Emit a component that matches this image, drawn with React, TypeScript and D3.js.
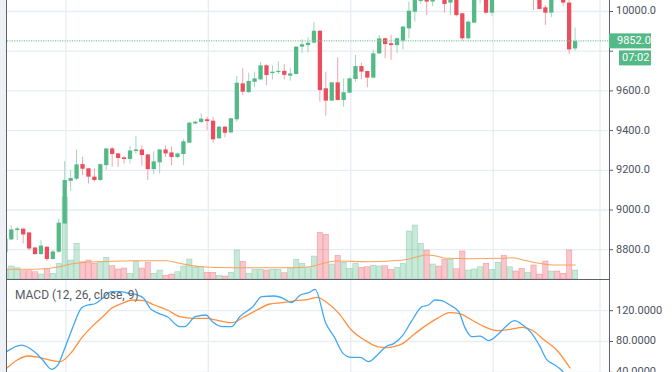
import React from 'react';
import * as d3 from 'd3';

// OHLC per bar (index 0 = leftmost, partly hidden by the border)
const opens = [8788, 8852, 8899, 8906, 8887, 8811, 8778, 8815, 8753, 8790, 8932, 9147, 9158, 9231, 9210, 9168, 9151, 9226, 9310, 9285, 9265, 9257, 9297, 9305, 9280, 9206, 9240, 9305, 9290, 9267, 9282, 9339, 9436, 9443, 9457, 9450, 9361, 9420, 9391, 9457, 9638, 9594, 9646, 9658, 9729, 9690, 9695, 9701, 9677, 9685, 9823, 9831, 9843, 9903, 9613, 9551, 9643, 9554, 9591, 9660, 9725, 9700, 9667, 9789, 9865, 9840, 9831, 9853, 9915, 9999, 10053, 10090, 10050, 10100, 10075, 10045, 10075, 9991, 9865, 9944, 10070, 10090, 9994, 10065, 10105, 10080, 10120, 10095, 10075, 10100, 10070, 10021, 9994, 10095, 10090, 10045, 9814];
const highs = [8860, 8922, 8916, 8909, 8887, 8815, 8848, 8818, 8798, 8956, 9247, 9201, 9305, 9268, 9210, 9210, 9235, 9312, 9319, 9287, 9272, 9322, 9373, 9325, 9282, 9295, 9307, 9325, 9319, 9289, 9356, 9445, 9450, 9487, 9470, 9470, 9423, 9423, 9465, 9675, 9714, 9692, 9697, 9746, 9734, 9729, 9749, 9735, 9716, 9826, 9860, 9870, 9947, 9907, 9697, 9646, 9769, 9662, 9668, 9781, 9742, 9702, 9809, 9881, 9868, 9882, 9870, 9927, 10050, 10110, 10120, 10110, 10130, 10130, 10100, 10120, 10100, 9993, 9955, 10100, 10120, 10110, 10090, 10130, 10140, 10150, 10135, 10115, 10125, 10110, 10080, 10033, 10090, 10115, 10100, 10058, 9919];
const lows = [8780, 8848, 8848, 8832, 8795, 8773, 8773, 8744, 8751, 8785, 8929, 9097, 9151, 9176, 9134, 9142, 9148, 9201, 9218, 9218, 9235, 9235, 9285, 9223, 9151, 9181, 9184, 9268, 9226, 9260, 9226, 9337, 9433, 9440, 9403, 9339, 9359, 9366, 9386, 9445, 9579, 9591, 9618, 9655, 9630, 9658, 9685, 9658, 9652, 9683, 9789, 9794, 9840, 9546, 9475, 9549, 9552, 9520, 9589, 9646, 9660, 9618, 9663, 9786, 9764, 9756, 9790, 9809, 9865, 9949, 10040, 9982, 10028, 10062, 9994, 9982, 9975, 9853, 9860, 9940, 10041, 9990, 9977, 10058, 10062, 10072, 10080, 10062, 10065, 10008, 10010, 9932, 9971, 10060, 10028, 9786, 9803];
const closes = [8855, 8902, 8907, 8877, 8806, 8778, 8821, 8753, 8791, 8936, 9151, 9161, 9230, 9208, 9168, 9151, 9231, 9310, 9282, 9262, 9257, 9300, 9305, 9277, 9206, 9245, 9305, 9285, 9267, 9285, 9346, 9440, 9445, 9460, 9448, 9356, 9420, 9389, 9462, 9641, 9596, 9650, 9663, 9729, 9680, 9697, 9701, 9681, 9688, 9823, 9835, 9843, 9903, 9604, 9551, 9643, 9554, 9593, 9663, 9725, 9697, 9667, 9789, 9865, 9836, 9831, 9865, 9924, 10004, 10075, 10080, 10050, 10095, 10078, 10038, 10090, 9982, 9865, 9949, 10070, 10095, 9994, 10065, 10105, 10080, 10120, 10095, 10075, 10100, 10070, 10013, 9994, 10065, 10068, 10045, 9809, 9852];
const volumes = [1000, 1300, 1130, 830, 830, 730, 500, 1070, 570, 1570, 8200, 1900, 3570, 1730, 1900, 1570, 1730, 2170, 1330, 1000, 1100, 570, 1770, 1100, 1670, 570, 900, 370, 500, 730, 1300, 2000, 1170, 1230, 670, 670, 370, 300, 670, 2900, 1770, 570, 970, 970, 900, 970, 970, 630, 1130, 1970, 1570, 1130, 2300, 4670, 4470, 1500, 2370, 1670, 1070, 1570, 1170, 1230, 1370, 1300, 1330, 970, 1170, 1570, 4800, 5400, 3570, 2900, 1500, 1300, 1970, 1970, 1030, 2800, 900, 1000, 1230, 1570, 970, 1670, 2370, 1230, 800, 1070, 670, 1400, 500, 1800, 800, 800, 570, 2900, 900];

// volume moving average, [bar index, value]
const volumeMA: [number, number][] = [[0.2, 970], [4.7, 970], [9.2, 1230], [10.3, 1400], [12, 1570], [13.7, 1670], [15.9, 1730], [18.2, 1770], [21.6, 1830], [27.2, 1830], [29.4, 1570], [32.8, 1230], [38.4, 1130], [44, 1130], [48, 1130], [51.3, 1230], [53, 1470], [55.7, 1800], [61.3, 1730], [67, 1900], [69.2, 2170], [70.9, 2400], [72.6, 2300], [74.3, 2070], [78.2, 2030], [83.8, 2070], [85.5, 2130], [87.2, 1900], [89.4, 1630], [92.2, 1400], [96.1, 1400]];

// MACD pane, [bar index, value]
const macdLine: [number, number][] = [[0.2, 66.8], [2.7, 75.4], [4.9, 66.8], [6.3, 56], [7.8, 43.9], [8.85, 49.5], [9.9, 69], [11.4, 99.3], [12.8, 123.1], [13.9, 127.4], [15, 128.7], [16.4, 136.1], [17.9, 144.7], [19.3, 144.7], [20.8, 142.6], [22.2, 140.4], [23.3, 136.1], [24.4, 123.1], [25.8, 116.6], [27.3, 112.2], [29.4, 99.3], [30.2, 99.3], [32, 112.2], [33.8, 114.4], [34.9, 105.8], [36.7, 99.3], [38.1, 99.3], [39.5, 112.2], [41.7, 125.2], [43.2, 138.2], [45.3, 139.1], [46.8, 136.1], [48.2, 130.4], [49.7, 140.4], [51.1, 143.4], [52.2, 147.7], [54, 103.6], [55.4, 86.3], [56.9, 64.6], [58.3, 59.4], [59.8, 59.4], [61.2, 53.8], [62.7, 62.5], [64.1, 73.3], [65.5, 77.6], [67, 88.4], [68.4, 105.8], [70.2, 125.2], [71.3, 127.4], [72.4, 133.9], [73.5, 133], [74.9, 127.4], [76.4, 118.7], [77.5, 97.1], [78.6, 86.3], [80, 87.1], [81.4, 81.1], [82.9, 88.4], [84.3, 99.3], [85.8, 107.1], [87.2, 101.4], [88.7, 90.6], [90.1, 73.3], [91.2, 56.8], [92.6, 49.5], [93.7, 43], [95, 30], [96, 22]];
const signalLine: [number, number][] = [[0.2, 45.1], [2, 56], [3.8, 61.2], [5.6, 59.4], [7.4, 56], [9.2, 53.8], [11, 64.6], [12.8, 84.1], [14.6, 99.3], [16.4, 112.2], [17.9, 123.1], [19.7, 129.6], [21.5, 133.9], [23.3, 133], [25.1, 127.4], [27.3, 120.9], [29.4, 112.2], [31.6, 110.1], [33.8, 110.1], [35.9, 107.1], [38.1, 104.5], [40.3, 112.2], [42.4, 120.9], [44.6, 128.7], [46.8, 130.4], [48.9, 133], [51.1, 134.8], [52.5, 137.4], [54, 131.7], [56.2, 116.6], [58.3, 94.9], [60.5, 82], [62.7, 73.3], [64.1, 72], [65.5, 73.3], [67, 77.6], [68.4, 86.3], [70.6, 99.3], [72.8, 110.1], [74.9, 117.4], [76.4, 116.6], [78.6, 107.9], [80.7, 99.3], [82.9, 94.1], [85.1, 95.8], [87.2, 98.4], [88.7, 94.9], [90.8, 82], [92.9, 69], [95.2, 45.1]];

const priceGrid = [8800, 9000, 9200, 9400, 9600, 9800, 10000];
// 9800.0 sits under the last-price badge, so it gets no label
const priceLabels = [8800, 9000, 9200, 9400, 9600, 10000];
const macdTicks = [40, 80, 120];
const timeGrid = [10.2, 34.2, 58.2, 82.2, 100.2];
const lastPrice = 9852;
const countdown = '07:02';

const UP = '#53b987';
const DOWN = '#eb4d5c';
const FONT = 'Roboto, sans-serif';

export default function App() {
  const W = 672, H = 372;
  const left = 7, axisX = 609, paneBottom = 279;

  const x = d3.scaleLinear().domain([-0.904, 101.72]).range([0, axisX]);
  const y = d3.scaleLinear().domain([8800, 10000]).range([249.7, 11.5]);
  const yVol = d3.scaleLinear().domain([0, 10000]).range([paneBottom, paneBottom - 100]);
  const yM = d3.scaleLinear().domain([80, 120]).range([341.5, 310.7]);
  const step = x(1) - x(0);
  const bodyW = step * 0.72;

  const volLine = d3.line<[number, number]>().x(d => x(d[0])).y(d => yVol(d[1])).curve(d3.curveMonotoneX);
  const mLine = d3.line<[number, number]>().x(d => x(d[0])).y(d => yM(d[1])).curve(d3.curveMonotoneX);

  return (
    <div style={{ position: 'absolute', left: 0, top: 0 }}>
      <svg width={W} height={H} style={{ display: 'block', background: '#fff' }}>
        <defs>
          <clipPath id="pricePane"><rect x={left} y={0} width={axisX - left} height={paneBottom} /></clipPath>
          <clipPath id="macdPane"><rect x={left} y={paneBottom + 1} width={axisX - left} height={H - paneBottom} /></clipPath>
        </defs>
        <rect x={0} y={0} width={left} height={H} fill="#eef2f6" />

        {/* price pane */}
        <g clipPath="url(#pricePane)">
          {priceGrid.map(t => (
            <line key={t} x1={left} x2={axisX} y1={y(t)} y2={y(t)} stroke="#e6edf4" strokeWidth={1.3} />
          ))}
          {timeGrid.map(t => (
            <line key={t} x1={x(t)} x2={x(t)} y1={0} y2={paneBottom} stroke="#e6edf4" strokeWidth={1.3} />
          ))}
          {volumes.map((v, i) => {
            const up = closes[i] >= opens[i];
            return (
              <rect key={i} x={x(i) - step / 2 + 0.3} width={step - 0.6} y={yVol(v)} height={paneBottom - yVol(v)}
                fill={up ? 'rgba(83,185,135,0.32)' : 'rgba(235,77,92,0.32)'}
                stroke={up ? 'rgba(83,185,135,0.45)' : 'rgba(235,77,92,0.45)'} strokeWidth={0.6} />
            );
          })}
          <path d={volLine(volumeMA) ?? ''} fill="none" stroke="#f7a35f" strokeWidth={1.1} />
          {opens.map((o, i) => {
            const c = closes[i];
            const up = c >= o;
            const top = y(Math.max(o, c));
            const bot = y(Math.min(o, c));
            return (
              <g key={i}>
                <line x1={x(i)} x2={x(i)} y1={y(highs[i])} y2={y(lows[i])} stroke={up ? '#9fd8bc' : '#f4a3ab'} strokeWidth={1} />
                <rect x={x(i) - bodyW / 2} width={bodyW} y={top} height={Math.max(1, bot - top)} fill={up ? UP : DOWN} />
              </g>
            );
          })}
          <line x1={left} x2={axisX} y1={y(lastPrice)} y2={y(lastPrice)} stroke="#7fcca6" strokeWidth={1.2} strokeDasharray="1.2 1.2" />
        </g>

        {/* MACD pane */}
        <g clipPath="url(#macdPane)">
          {macdTicks.map(t => (
            <line key={t} x1={left} x2={axisX} y1={yM(t)} y2={yM(t)} stroke="#e6edf4" strokeWidth={1.3} />
          ))}
          {timeGrid.map(t => (
            <line key={t} x1={x(t)} x2={x(t)} y1={paneBottom} y2={H} stroke="#e6edf4" strokeWidth={1.3} />
          ))}
          <path d={mLine(signalLine) ?? ''} fill="none" stroke="#ff8f3f" strokeWidth={1.3} />
          <path d={mLine(macdLine) ?? ''} fill="none" stroke="#42a8f4" strokeWidth={1.3} />
        </g>
        <text x={15} y={296} dominantBaseline="middle" fontFamily={FONT} fontSize={12} fill="#555a64">MACD (12, 26, close, 9)</text>

        {/* borders */}
        <line x1={left - 0.5} x2={left - 0.5} y1={0} y2={H} stroke="#5d606b" strokeWidth={1} />
        <line x1={axisX + 0.5} x2={axisX + 0.5} y1={0} y2={H} stroke="#5d606b" strokeWidth={1} />
        <line x1={left} x2={axisX} y1={paneBottom + 0.5} y2={paneBottom + 0.5} stroke="#5d606b" strokeWidth={1} />

        {/* right axis */}
        {priceGrid.map(t => (
          <line key={t} x1={axisX} x2={axisX + 4} y1={y(t)} y2={y(t)} stroke="#5d606b" />
        ))}
        {priceLabels.map(t => (
          <text key={t} x={616} y={y(t)} dominantBaseline="middle" fontFamily={FONT} fontSize={11} fill="#4c525e">{t.toFixed(1)}</text>
        ))}
        {macdTicks.map(t => (
          <g key={t}>
            <line x1={axisX} x2={axisX + 4} y1={yM(t)} y2={yM(t)} stroke="#5d606b" />
            <text x={616} y={yM(t)} dominantBaseline="middle" fontFamily={FONT} fontSize={11} fill="#4c525e">{t.toFixed(4)}</text>
          </g>
        ))}
        <rect x={axisX} y={y(lastPrice) - 7.5} width={42} height={15} fill={UP} />
        <text x={617} y={y(lastPrice)} dominantBaseline="middle" fontFamily={FONT} fontSize={11} fill="#fff">{lastPrice.toFixed(1)}</text>
        <rect x={619} y={y(lastPrice) + 9.5} width={32} height={15} fill={UP} />
        <text x={622} y={y(lastPrice) + 17} dominantBaseline="middle" fontFamily={FONT} fontSize={11} fill="#fff">{countdown}</text>
      </svg>
    </div>
  );
}
